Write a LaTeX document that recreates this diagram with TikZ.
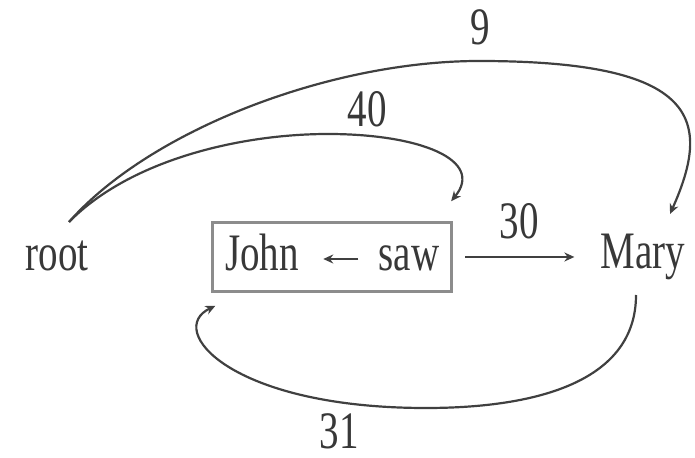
\documentclass[tikz,border=0pt]{standalone}
\usepackage{graphicx}
\usepackage{fontspec}
\setmainfont{Liberation Serif}
\usetikzlibrary{arrows.meta,fit}
\newcommand\tallt[1]{\scalebox{1}[1.35]{#1}}
\tikzset{
  word/.style={font=\fontsize{19.5}{23}\selectfont, text=black!78, inner sep=0pt,
               text height=18pt, text depth=6pt, anchor=base},
  num/.style={font=\fontsize{19.5}{23}\selectfont, text=black!78, inner sep=0pt},
  edge/.style={draw=black!75, line width=1.1pt, -{Stealth[length=5pt,width=4.5pt]}},
  frame/.style={draw=black!45, line width=1.4pt, inner xsep=6pt, inner ysep=5pt}
}
\begin{document}
\begin{tikzpicture}[x=0.5pt,y=-0.5pt]
\useasboundingbox (0,0) rectangle (695,458);
% words
\node[word] (root) at (57,271) {\tallt{root}};
\node[word] (john) at (262,271) {\tallt{John}};
\node[word] (saw)  at (409,271) {\tallt{saw}};
\node[word] (mary) at (643,269) {\tallt{Mary}};
% box
\node[frame, fit=(john)(saw), yshift=1pt] (box) {};
% arrow inside box
\draw[edge, shorten <=10pt, shorten >=12pt] (saw.west) -- (john.east);
% 30
\draw[edge] ([xshift=6pt]box.east) -- ([xshift=-13pt]box.east -| mary.west);
\node[num] (l30) at (519,221) {\tallt{30}};
% 9
\draw[edge] ([shift={(12,-49)}]root.base)
   .. controls (150,130) and (330,61) .. (479,61)
   .. controls (700,61) and (712,120) .. ([shift={(27,-55)}]mary.base);
\node[num] (l9) at (480,27) {\tallt{9}};
% 40
\draw[edge] ([shift={(12,-49)}]root.base)
   .. controls (130,160) and (240,134) .. (328,134)
   .. controls (420,134) and (485,160) .. ([shift={(-2,-20)}]box.north east);
\node[num] (l40) at (367,109) {\tallt{40}};
% 31
\draw[edge] ([shift={(-7,26)}]mary.base)
   .. controls (636,380) and (540,408) .. (426,408)
   .. controls (230,408) and (165,330) .. ([shift={(4,13)}]box.south west);
\node[num] (l31) at (339,431) {\tallt{31}};
\end{tikzpicture}
\end{document}
